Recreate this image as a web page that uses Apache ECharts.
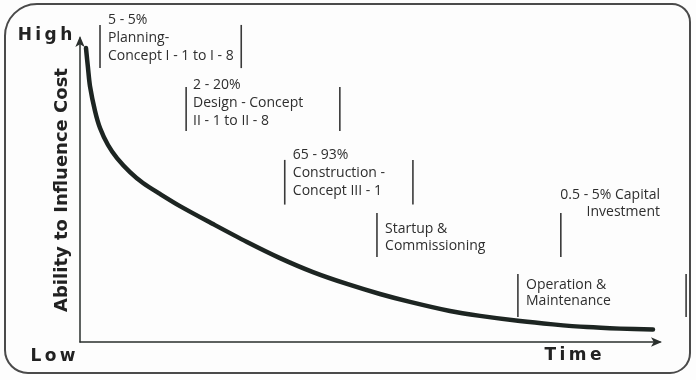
<!DOCTYPE html>
<html>
<head>
<meta charset="utf-8">
<script src="https://cdn.jsdelivr.net/npm/echarts@6/dist/echarts.min.js"></script>
<style>
html,body{margin:0;padding:0;background:#fdfdfd;}
#chart{width:696px;height:380px;}
</style>
</head>
<body>
<div id="chart"></div>
<script>
// Curve: ability to influence cost over time (0-100 scales)
const curveX = [1.03, 1.38, 1.72, 2.59, 3.45, 4.83, 6.38, 8.62, 10.86, 13.79, 17.24, 22.93, 28.79, 34.48, 40.17, 46.03, 51.72, 56.90, 63.79, 68.97, 75.86, 81.55, 87.41, 93.10, 98.79];
const curveY = [96.7, 90.1, 84.2, 76.0, 70.4, 64.8, 60.5, 55.9, 52.3, 48.7, 44.7, 38.8, 32.9, 27.6, 23.0, 19.1, 15.8, 13.2, 10.2, 8.6, 6.9, 5.8, 4.9, 4.4, 4.1];

// Phase brackets: left x, right x, top y, bottom y (data units)
const phaseNames = ['Planning', 'Design', 'Construction', 'Startup', 'Operation'];
const bracketLeft = [3.45, 18.3, 35.3, 51.2, 75.5];
const bracketRight = [27.8, 44.8, 57.4, 82.9, 104.5];
const bracketTop = [104.3, 83.9, 59.9, 42.4, 22.4];
const bracketBottom = [90.1, 69.4, 45.2, 28.0, 8.2];

// Annotation texts and their anchor (data units)
const noteTexts = [
  '5 - 5%\nPlanning-\nConcept I - 1 to I - 8',
  '2 - 20%\nDesign - Concept\nII - 1 to II - 8',
  '65 - 93%\nConstruction -\nConcept III - 1',
  'Startup &\nCommissioning',
  '0.5 - 5% Capital\nInvestment',
  'Operation &\nMaintenance'
];
const noteX = [4.83, 19.5, 36.7, 52.6, 100, 76.9];
const noteY = [108.9, 87.5, 64.5, 39.8, 51.3, 21.4];
const noteAlign = ['left', 'left', 'left', 'left', 'right', 'left'];
const noteLH = [18, 18, 18, 17, 17, 16];

const chart = echarts.init(document.getElementById('chart'));
const ink = '#2a2f2d';

const bracketData = phaseNames.map((n, i) => [bracketLeft[i], bracketRight[i], bracketTop[i], bracketBottom[i]]);
const noteData = noteTexts.map((t, i) => [noteX[i], noteY[i]]);

chart.setOption({
  animation: false,
  backgroundColor: '#fdfdfd',
  grid: { left: 80, right: 36, top: 38, bottom: 38 },
  xAxis: {
    type: 'value', min: 0, max: 100,
    axisLine: { show: true, onZero: false, symbol: ['none', 'arrow'], symbolSize: [7, 11], symbolOffset: [0, 2],
      lineStyle: { color: ink, width: 1.5 } },
    axisTick: { show: false }, axisLabel: { show: false }, splitLine: { show: false }
  },
  yAxis: {
    type: 'value', min: 0, max: 100,
    axisLine: { show: true, onZero: false, symbol: ['none', 'arrow'], symbolSize: [7, 11], symbolOffset: [0, 2],
      lineStyle: { color: ink, width: 1.5 } },
    axisTick: { show: false }, axisLabel: { show: false }, splitLine: { show: false }
  },
  series: [
    {
      type: 'line', smooth: 0.3, showSymbol: false, symbol: 'none', clip: false,
      data: curveX.map((x, i) => [x, curveY[i]]),
      lineStyle: { color: '#1d2522', width: 4.5, cap: 'round', join: 'round' },
      z: 5
    },
    {
      type: 'custom', clip: false, silent: true,
      data: bracketData,
      renderItem: function (params, api) {
        const l1 = api.coord([api.value(0), api.value(2)]);
        const l2 = api.coord([api.value(0), api.value(3)]);
        const r1 = api.coord([api.value(1), api.value(2)]);
        const r2 = api.coord([api.value(1), api.value(3)]);
        const st = { stroke: '#3a3a3a', lineWidth: 1.6 };
        return { type: 'group', children: [
          { type: 'line', shape: { x1: l1[0], y1: l1[1], x2: l2[0], y2: l2[1] }, style: st },
          { type: 'line', shape: { x1: r1[0], y1: r1[1], x2: r2[0], y2: r2[1] }, style: st }
        ] };
      }
    },
    {
      type: 'custom', clip: false, silent: true,
      data: noteData,
      renderItem: function (params, api) {
        const i = params.dataIndex;
        const p = api.coord([api.value(0), api.value(1)]);
        return { type: 'text', x: p[0], y: p[1], style: {
          text: noteTexts[i], fill: '#2e2e2e', fontSize: 14, fontFamily: 'Open Sans',
          align: noteAlign[i], verticalAlign: 'top', lineHeight: noteLH[i]
        } };
      }
    }
  ],
  graphic: [
    { type: 'rect', z: -1, shape: { x: 5, y: 4, width: 685, height: 369, r: [32, 18, 20, 23] },
      style: { fill: 'transparent', stroke: '#4a4a4a', lineWidth: 2 } },
    { type: 'text', x: 45, y: 36, style: { text: 'H\u2009i\u2009g\u2009h', fontFamily: 'DejaVu Sans', fontWeight: 'bold', fontSize: 17, fill: '#222', align: 'center', verticalAlign: 'middle' } },
    { type: 'text', x: 53, y: 357, style: { text: 'L\u2009o\u2009w', fontFamily: 'DejaVu Sans', fontWeight: 'bold', fontSize: 17, fill: '#222', align: 'center', verticalAlign: 'middle' } },
    { type: 'text', x: 573, y: 356, style: { text: 'T\u2009i\u2009m\u2009e', fontFamily: 'DejaVu Sans', fontWeight: 'bold', fontSize: 17, fill: '#222', align: 'center', verticalAlign: 'middle' } },
    { type: 'text', x: 62, y: 190, rotation: Math.PI / 2, style: { text: 'Ability to Influence Cost', fontFamily: 'DejaVu Sans', fontWeight: 'bold', fontSize: 18, fill: '#222', align: 'center', verticalAlign: 'middle' } }
  ]
});
</script>
</body>
</html>
